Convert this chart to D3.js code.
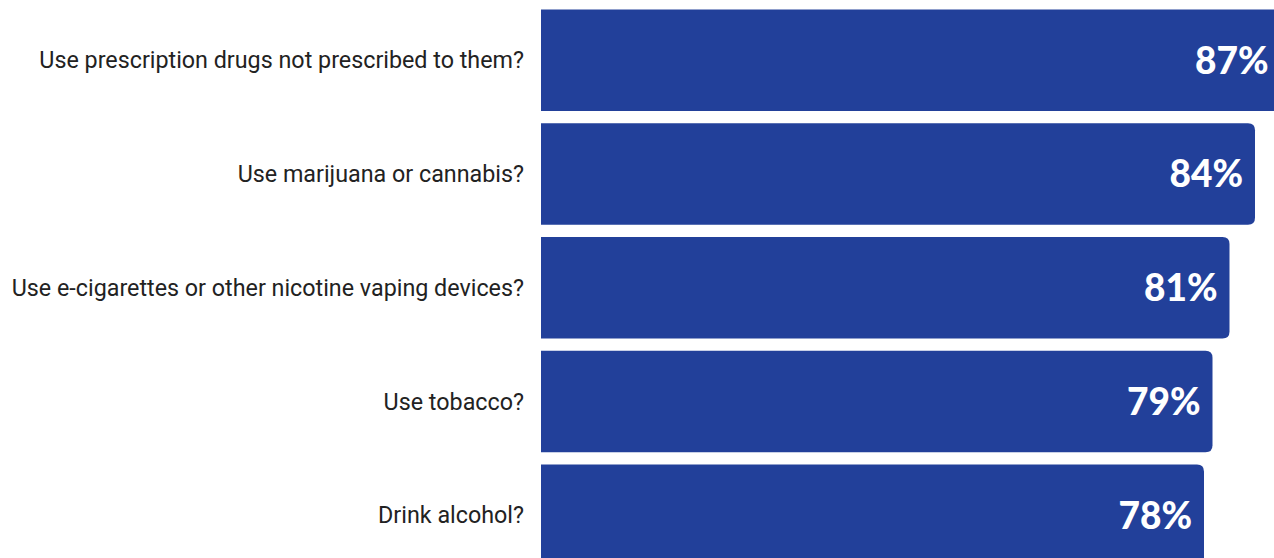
<!DOCTYPE html>
<html>
<head>
<meta charset="utf-8">
<script src="https://cdn.jsdelivr.net/npm/d3@7"></script>
<style>
  html, body { margin: 0; padding: 0; background: #fff; overflow: hidden; }
  svg { display: block; }
</style>
</head>
<body>
<svg id="chart" width="1274" height="558"></svg>
<script>
// Share answering "yes" per behaviour
const categories = [
  "Use prescription drugs not prescribed to them?",
  "Use marijuana or cannabis?",
  "Use e-cigarettes or other nicotine vaping devices?",
  "Use tobacco?",
  "Drink alcohol?"
];
const values = [87, 84, 81, 79, 78];
const valueLabels = ["87%", "84%", "81%", "79%", "78%"];

const W = 1274, H = 558;
const barLeft = 541;
const barColor = "#22409a";
const radius = 7;

const svg = d3.select("#chart");

const x = d3.scaleLinear().domain([0, 100]).range([barLeft, barLeft + 850]);
const y = d3.scaleBand()
  .domain(categories)
  .range([9.5, 9.5 + 5 * 113.75 - 12.25])
  .paddingInner(0.108)
  .paddingOuter(0);

const rows = categories.map((c, i) => ({ cat: c, v: values[i], label: valueLabels[i] }));

// bar with square left edge and rounded right corners
function barPath(d) {
  const x0 = x(0), x1 = x(d.v), y0 = y(d.cat), h = y.bandwidth(), r = radius;
  return `M${x0},${y0}H${x1 - r}Q${x1},${y0} ${x1},${y0 + r}V${y0 + h - r}Q${x1},${y0 + h} ${x1 - r},${y0 + h}H${x0}Z`;
}

svg.append("g").selectAll("path")
  .data(rows).join("path")
  .attr("d", barPath)
  .attr("fill", barColor);

// category labels to the left of the bars
svg.append("g").selectAll("text")
  .data(rows).join("text")
  .attr("x", barLeft - 17)
  .attr("y", d => y(d.cat) + y.bandwidth() / 2)
  .attr("dy", "0.35em")
  .attr("text-anchor", "end")
  .attr("font-family", "Roboto, 'Noto Sans', sans-serif")
  .attr("font-size", 23.3)
  .attr("fill", "#222")
  .text(d => d.cat);

// value labels inside the bar ends
svg.append("g").selectAll("text")
  .data(rows).join("text")
  .attr("x", d => x(d.v) - 12)
  .attr("y", d => y(d.cat) + y.bandwidth() / 2)
  .attr("dy", "0.36em")
  .attr("text-anchor", "end")
  .attr("font-family", "Lato, 'Open Sans', sans-serif")
  .attr("font-weight", 900)
  .attr("font-size", 37)
  .attr("fill", "#fff")
  .text(d => d.label);
</script>
</body>
</html>
